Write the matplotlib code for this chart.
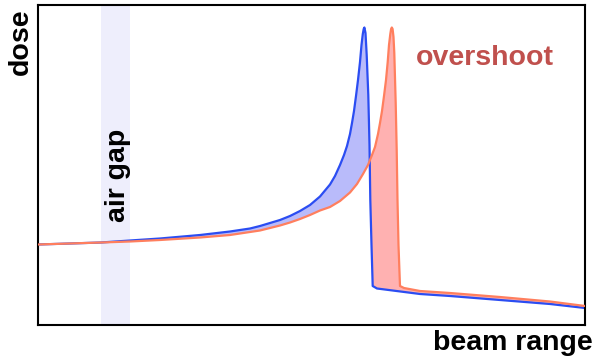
import numpy as np
import matplotlib
matplotlib.use("Agg")
import matplotlib.pyplot as plt

# ---- data (range units, dose units) ----
blue_range = [0, 32, 63, 92, 122, 162, 192, 212, 222, 232, 242, 252, 262, 272, 282,
              292, 297, 302, 306, 309, 312, 314, 316, 318, 320, 322, 323.5, 324.8,
              325.7, 326.4, 327.5, 328.7, 330.3, 331.5, 332.3, 333.5, 334.7,
              339, 382, 412, 462, 512, 547]
blue_dose = [80.5, 81.5, 82.5, 84.5, 86.5, 90, 93.5, 96.5, 99, 102, 105, 109, 114, 120, 128.5,
             140.5, 149, 160, 170, 179, 191, 202, 214, 229, 245, 263, 280, 291,
             296, 297.5, 292, 270, 230, 180, 125, 80, 39,
             36.5, 31, 29, 25, 21, 17]

orange_range = [0, 63, 92, 122, 162, 192, 222, 242, 252, 262, 272, 282, 292, 302, 312,
                319, 325, 330, 334, 337, 340, 342, 344, 346, 348, 349.7, 351, 352.3,
                353.1, 353.8, 354.6, 355.5, 356.3, 357.7, 358.7, 359.5, 360.5, 362,
                366, 382, 412, 462, 512, 547]
orange_dose = [80.5, 82.5, 83.5, 85, 87.5, 90, 94.5, 99.5, 102.5, 106, 110, 114.5, 118, 124, 132.5,
               141, 151, 160, 170, 178, 191, 202, 214, 229, 245, 263, 280, 291,
               296, 297.5, 296, 288, 272, 222, 175, 125, 80, 39,
               37, 34, 32, 28, 23.5, 19]

band = (63, 92)          # air gap extent in range units
x_max, y_max = 547, 320

blue_line = '#2b4df2'
orange_line = '#ff7f5e'
blue_fill = '#b9bbfa'
red_fill = '#ffb1b1'

fig = plt.figure(figsize=(5.96, 3.60), dpi=100)
ax = fig.add_axes([38 / 596, 35 / 360, 547 / 596, 320 / 360])

ax.axvspan(band[0], band[1], color='#eeeefc', lw=0, zorder=0)

# common grid for filling between the two curves
grid = np.union1d(blue_range, orange_range)
b = np.interp(grid, blue_range, blue_dose)
o = np.interp(grid, orange_range, orange_dose)
ax.fill_between(grid, b, o, where=b >= o, interpolate=True, color=blue_fill, lw=0, zorder=1)
ax.fill_between(grid, b, o, where=o >= b, interpolate=True, color=red_fill, lw=0, zorder=1)

ax.plot(blue_range, blue_dose, color=blue_line, lw=1.6, zorder=2, solid_joinstyle='round')
ax.plot(orange_range, orange_dose, color=orange_line, lw=1.6, zorder=3, solid_joinstyle='round')

ax.set_xlim(0, x_max)
ax.set_ylim(0, y_max)
ax.set_xticks([])
ax.set_yticks([])
for s in ax.spines.values():
    s.set_linewidth(1.5)
    s.set_color('black')

font = dict(family=['Liberation Sans', 'DejaVu Sans'], weight='bold', size=20.5)

ax.text(378, 260, 'overshoot', color='#c0504d', ha='left', va='baseline', **font)
ax.text(80, 150, 'air gap', rotation=90, ha='center', va='center', color='black', **font)

fig.text(21 / 596, 1 - 41.5 / 360, 'dose', rotation=90, ha='center', va='center', **font)
fig.text(513 / 596, 10 / 360, 'beam range', ha='center', va='baseline', **font)

fig.savefig('out.png', dpi=100)
